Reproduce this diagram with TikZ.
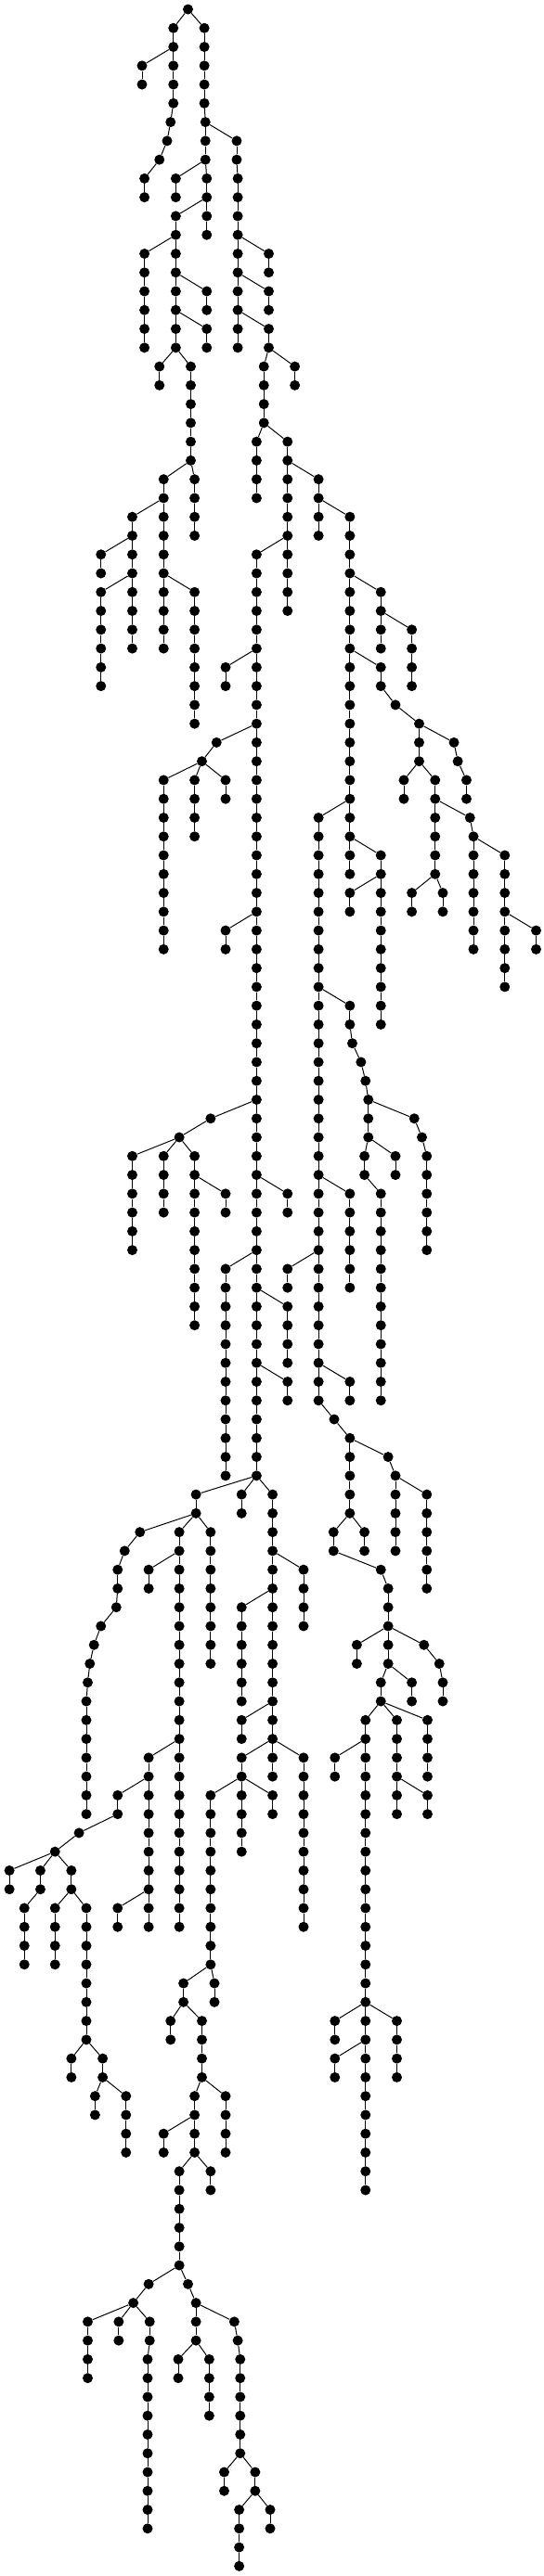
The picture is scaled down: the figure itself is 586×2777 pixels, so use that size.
\documentclass[tikz,border=0pt]{standalone}
\begin{document}
\begin{tikzpicture}[x=0.375pt,y=-20.267pt,
  v/.style={circle,fill=black,draw=none,inner sep=0pt,minimum size=11pt},
  e/.style={line width=1pt,black}]
\fill[white] (0pt,0pt) rectangle (586pt,-2777pt);
\useasboundingbox (0pt,0pt) rectangle (586pt,-2777pt);
\begin{scope}[yshift=-10pt]
\node[v] (v0x540) at (540,0) {};
\foreach \x/\r/\p in {
498/1/540, 587/1/540,
498/2/498, 587/2/587,
408/3/498, 498/3/498, 587/3/587,
408/4/408, 498/4/498, 587/4/587,
498/5/498, 587/5/587,
490/6/498, 590/6/587,
480/7/490, 590/7/590, 680/7/590,
458/8/480, 590/8/590, 680/8/680,
415/9/458, 505/9/590, 594/9/590, 683/9/680,
415/10/415, 505/10/505, 594/10/594, 683/10/683,
505/11/594, 594/11/594, 683/11/683,
505/12/505, 594/12/594, 683/12/683,
415/13/505, 505/13/505, 683/13/683, 772/13/683,
415/14/415, 505/14/505, 683/14/683, 772/14/772,
415/15/415, 505/15/505, 594/15/505, 683/15/683, 772/15/683,
415/16/415, 505/16/505, 594/16/594, 683/16/683, 772/16/772,
415/17/415, 505/17/505, 594/17/505, 683/17/683, 772/17/683,
415/18/415, 505/18/505, 594/18/594, 683/18/683, 772/18/772,
458/19/505, 548/19/505, 758/19/772, 847/19/772,
458/20/458, 548/20/548, 758/20/758, 847/20/847,
548/21/548, 758/21/758,
548/22/548, 758/22/758,
548/23/548, 737/23/758, 826/23/758,
548/24/548, 737/24/737, 826/24/826,
470/25/548, 559/25/548, 737/25/737, 826/25/826, 915/25/826,
470/26/470, 559/26/559, 737/26/737, 826/26/826, 915/26/915,
380/27/470, 470/27/470, 559/27/559, 826/27/826, 915/27/915, 1005/27/915,
380/28/380, 470/28/470, 559/28/559, 826/28/826, 915/28/915, 1005/28/1005,
290/29/380, 380/29/380, 470/29/470, 737/29/826, 826/29/826, 1005/29/1005,
290/30/290, 380/30/380, 470/30/470, 737/30/737, 826/30/826, 1005/30/1005,
290/31/380, 380/31/380, 470/31/470, 559/31/470, 737/31/737, 826/31/826, 1005/31/1005, 1094/31/1005,
290/32/290, 380/32/380, 470/32/470, 559/32/559, 737/32/737, 826/32/826, 1005/32/1005, 1094/32/1094,
290/33/290, 380/33/380, 470/33/470, 559/33/559, 737/33/737, 1005/33/1005, 1094/33/1094, 1183/33/1094,
290/34/290, 380/34/380, 470/34/470, 559/34/559, 737/34/737, 1005/34/1005, 1094/34/1094, 1183/34/1183,
290/35/290, 559/35/559, 648/35/737, 737/35/737, 1005/35/1005, 1094/35/1005, 1183/35/1183,
290/36/290, 559/36/559, 648/36/648, 737/36/737, 1005/36/1005, 1094/36/1094, 1183/36/1183,
559/37/559, 737/37/737, 1005/37/1005, 1136/37/1094,
559/38/559, 737/38/737, 1005/38/1005, 1204/38/1136,
622/39/737, 737/39/737, 1005/39/1005, 1204/39/1204, 1304/39/1204,
580/40/622, 737/40/737, 1005/40/1005, 1204/40/1204, 1315/40/1304,
470/41/580, 559/41/580, 648/41/580, 737/41/737, 1005/41/1005, 1160/41/1204, 1250/41/1204, 1340/41/1315,
470/42/470, 559/42/559, 648/42/648, 737/42/737, 1005/42/1005, 1160/42/1160, 1250/42/1250, 1340/42/1340,
470/43/470, 559/43/559, 737/43/737, 915/43/1005, 1005/43/1005, 1250/43/1250, 1350/43/1250,
470/44/470, 559/44/559, 737/44/737, 915/44/915, 1005/44/1005, 1250/44/1250, 1360/44/1350,
470/45/470, 737/45/737, 915/45/915, 1005/45/1005, 1094/45/1005, 1250/45/1250, 1360/45/1360, 1450/45/1360,
470/46/470, 737/46/737, 915/46/915, 1005/46/1005, 1094/46/1094, 1250/46/1250, 1360/46/1360, 1450/46/1450,
470/47/470, 737/47/737, 915/47/915, 1005/47/1094, 1094/47/1094, 1183/47/1250, 1272/47/1250, 1360/47/1360, 1450/47/1450,
470/48/470, 737/48/737, 915/48/915, 1005/48/1005, 1094/48/1094, 1183/48/1183, 1272/48/1272, 1360/48/1360, 1450/48/1450,
470/49/470, 648/49/737, 737/49/737, 915/49/915, 1094/49/1094, 1360/49/1360, 1450/49/1450, 1540/49/1450,
470/50/470, 648/50/648, 737/50/737, 915/50/915, 1094/50/1094, 1360/50/1360, 1450/50/1450, 1540/50/1540,
737/51/737, 915/51/915, 1094/51/1094, 1450/51/1450,
737/52/737, 915/52/915, 1094/52/1094, 1450/52/1450,
737/53/737, 915/53/915, 1005/53/915, 1094/53/1094,
737/54/737, 915/54/915, 1005/54/1005, 1094/54/1094,
737/55/737, 915/55/915, 1012/55/1005,
737/56/737, 915/56/915, 1037/56/1012,
737/57/737, 915/57/915, 1050/57/1037,
737/58/737, 915/58/915, 1058/58/1050,
605/59/737, 737/59/737, 915/59/915, 1058/59/1058, 1190/59/1058,
515/60/605, 737/60/737, 915/60/915, 1058/60/1058, 1212/60/1190,
380/61/515, 470/61/515, 559/61/515, 737/61/737, 915/61/915, 1047/61/1058, 1136/61/1058, 1226/61/1212,
380/62/380, 470/62/470, 559/62/559, 737/62/737, 915/62/915, 1047/62/1047, 1136/62/1136, 1226/62/1226,
380/63/380, 470/63/470, 559/63/559, 648/63/559, 737/63/737, 826/63/737, 915/63/915, 1005/63/915, 1094/63/1047, 1226/63/1226,
380/64/380, 470/64/470, 559/64/559, 648/64/648, 737/64/737, 826/64/826, 915/64/915, 1005/64/1005, 1094/64/1094, 1226/64/1226,
380/65/380, 559/65/559, 737/65/737, 915/65/915, 1005/65/1005, 1094/65/1094, 1226/65/1226,
380/66/380, 559/66/559, 737/66/737, 915/66/915, 1005/66/1005, 1094/66/1094, 1226/66/1226,
559/67/559, 648/67/737, 737/67/737, 826/67/915, 915/67/915, 1005/67/1005, 1094/67/1094,
559/68/559, 648/68/648, 737/68/737, 826/68/826, 915/68/915, 1005/68/1005, 1094/68/1094,
559/69/559, 648/69/648, 737/69/737, 826/69/737, 915/69/915, 1094/69/1094,
559/70/559, 648/70/648, 737/70/737, 826/70/826, 915/70/915, 1094/70/1094,
648/71/648, 737/71/737, 826/71/826, 915/71/915, 1094/71/1094,
648/72/648, 737/72/737, 826/72/826, 915/72/915, 1094/72/1094,
648/73/648, 737/73/737, 826/73/737, 915/73/915, 1005/73/915, 1094/73/1094,
648/74/648, 737/74/737, 826/74/826, 915/74/915, 1005/74/1005, 1094/74/1094,
648/75/648, 737/75/737, 960/75/915,
648/76/648, 737/76/737, 1005/76/960,
648/77/648, 737/77/737, 1005/77/1005, 1115/77/1005,
648/78/648, 737/78/737, 1005/78/1005, 1136/78/1115,
563/79/737, 694/79/737, 783/79/737, 1005/79/1005, 1136/79/1136, 1226/79/1136,
563/80/563, 694/80/694, 783/80/783, 1005/80/1005, 1136/80/1136, 1226/80/1226,
402/81/563, 515/81/563, 605/81/563, 783/81/783, 958/81/1005, 1047/81/1005, 1136/81/1136, 1226/81/1226,
358/82/402, 515/82/515, 605/82/605, 783/82/783, 958/82/958, 1047/82/1047, 1136/82/1136, 1226/82/1226,
338/83/358, 427/83/515, 515/83/515, 605/83/605, 783/83/783, 872/83/783, 1094/83/958, 1226/83/1226,
338/84/338, 427/84/427, 515/84/515, 605/84/605, 783/84/783, 872/84/872, 1115/84/1094, 1226/84/1226,
334/85/338, 515/85/515, 605/85/605, 694/85/783, 783/85/783, 872/85/872, 1115/85/1115,
290/86/334, 515/86/515, 605/86/605, 694/86/694, 783/86/783, 872/86/872, 1115/86/1115,
270/87/290, 515/87/515, 605/87/605, 694/87/694, 783/87/783, 1025/87/1115, 1115/87/1115, 1218/87/1115,
258/88/270, 515/88/515, 605/88/605, 694/88/694, 783/88/783, 1025/88/1025, 1115/88/1115, 1262/88/1218,
252/89/258, 515/89/515, 694/89/694, 783/89/783, 1094/89/1115, 1183/89/1115, 1272/89/1262,
248/90/252, 515/90/515, 694/90/694, 783/90/783, 1094/90/1094, 1183/90/1183, 1272/90/1272,
248/91/248, 515/91/515, 694/91/783, 783/91/783, 1050/91/1094, 1140/91/1094, 1228/91/1094,
248/92/248, 515/92/515, 694/92/694, 783/92/783, 1050/92/1050, 1140/92/1140, 1228/92/1228,
248/93/248, 427/93/515, 515/93/515, 694/93/783, 783/93/783, 872/93/783, 962/93/1050, 1050/93/1050, 1140/93/1140, 1228/93/1228,
248/94/248, 427/94/427, 515/94/515, 694/94/694, 783/94/783, 872/94/872, 962/94/962, 1050/94/1050, 1140/94/1140, 1228/94/1228,
248/95/248, 338/95/427, 427/95/427, 515/95/515, 605/95/694, 694/95/694, 783/95/694, 872/95/872, 1050/95/1050, 1140/95/1140, 1228/95/1140,
248/96/248, 338/96/338, 427/96/427, 515/96/515, 605/96/605, 694/96/694, 783/96/783, 872/96/872, 1050/96/1050, 1140/96/1140, 1228/96/1228,
227/97/338, 427/97/427, 515/97/515, 605/97/605, 694/97/694, 872/97/872, 1050/97/1050,
158/98/227, 427/98/427, 515/98/515, 605/98/605, 694/98/694, 872/98/872, 1050/98/1050,
27/99/158, 116/99/158, 205/99/158, 427/99/427, 515/99/515, 605/99/605, 872/99/872, 1050/99/1050,
27/100/27, 116/100/116, 205/100/205, 427/100/427, 515/100/515, 605/100/605, 872/100/872, 1050/100/1050,
70/101/116, 158/101/205, 248/101/205, 338/101/427, 427/101/427, 515/101/515, 605/101/605, 872/101/872, 1050/101/1050,
70/102/70, 158/102/158, 248/102/248, 338/102/338, 427/102/427, 515/102/515, 605/102/605, 872/102/872, 1050/102/1050,
70/103/70, 158/103/158, 248/103/248, 605/103/605, 1050/103/1050,
70/104/70, 158/104/158, 248/104/248, 605/104/605, 1050/104/1050,
248/105/248, 527/105/605, 616/105/605, 1050/105/1050,
248/106/248, 527/106/527, 616/106/616, 1050/106/1050,
248/107/248, 490/107/527, 580/107/527, 962/107/1050, 1050/107/1050, 1140/107/1050,
248/108/248, 490/108/490, 580/108/580, 962/108/962, 1050/108/1050, 1140/108/1140,
205/109/248, 295/109/248, 580/109/580, 962/109/1050, 1050/109/1050, 1140/109/1140,
205/110/205, 295/110/295, 580/110/580, 962/110/962, 1050/110/1050, 1140/110/1140,
273/111/295, 362/111/295, 559/111/580, 648/111/580, 1050/111/1050,
273/112/273, 362/112/362, 559/112/559, 648/112/648, 1050/112/1050,
362/113/362, 470/113/559, 559/113/559, 648/113/648, 1050/113/1050,
362/114/362, 470/114/470, 559/114/559, 648/114/648, 1050/114/1050,
515/115/559, 605/115/559, 1050/115/1050,
515/116/515, 605/116/605, 1050/116/1050,
515/117/515,
515/118/515,
515/119/515,
515/120/515,
427/121/515, 540/121/515,
383/122/427, 563/122/540,
252/123/383, 341/123/383, 430/123/383, 563/123/563, 673/123/563,
252/124/252, 341/124/341, 430/124/430, 563/124/563, 683/124/673,
252/125/252, 424/125/430, 512/125/563, 601/125/563, 690/125/683,
252/126/252, 424/126/424, 512/126/512, 601/126/601, 690/126/690,
424/127/424, 601/127/601, 690/127/690,
424/128/424, 601/128/601, 690/128/690,
424/129/424, 690/129/690,
424/130/424, 690/130/690,
424/131/424, 644/131/690, 733/131/690,
424/132/424, 644/132/644, 733/132/733,
424/133/424, 687/133/733, 776/133/733,
424/134/424, 687/134/687, 776/134/776,
687/135/687,
687/136/687}{
  \pgfmathtruncatemacro\q{\r-1}
  \node[v] (v\r x\x) at (\x,\r) {};
  \draw[e] (v\q x\p) -- (v\r x\x);
}
\end{scope}
\end{tikzpicture}
\end{document}
